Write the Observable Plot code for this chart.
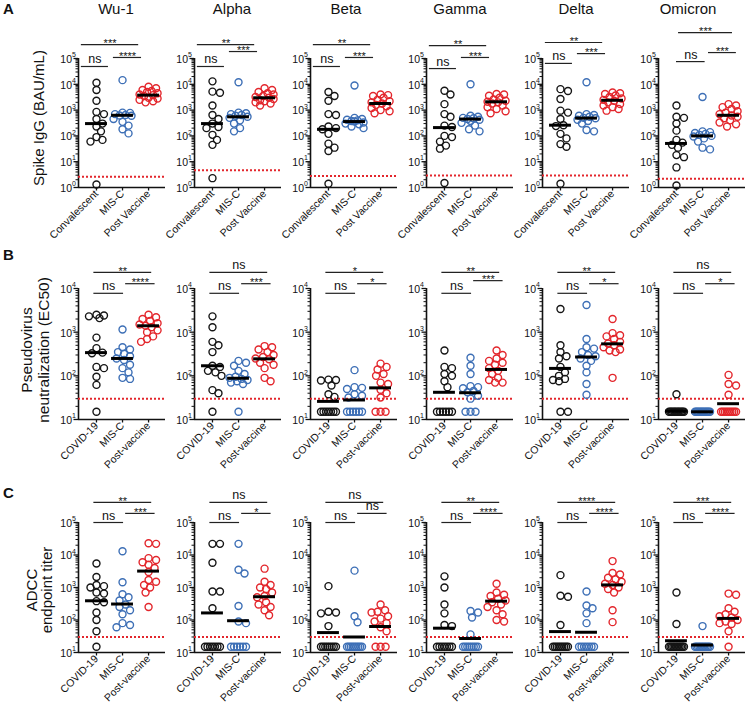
<!DOCTYPE html>
<html><head><meta charset="utf-8">
<script src="https://cdn.jsdelivr.net/npm/d3@7"></script>
<script src="https://cdn.jsdelivr.net/npm/@observablehq/plot@0.6"></script>
<style>
body{margin:0;background:#fff;font-family:"Liberation Sans",Arial,sans-serif;color:#111;}
#root{position:relative;width:752px;height:706px;overflow:hidden;background:#fff;}
.abs{position:absolute;white-space:nowrap;}
.title{font-size:15px;transform:translateX(-50%);line-height:18px;}
.letter{font-size:15px;font-weight:bold;left:3px;}
.ytitle{transform:translate(-50%,-50%) rotate(-90deg);text-align:center;}
.panel{position:absolute;}
</style></head><body><div id="root"></div>
<script>
// ---------- categories / labels ----------
const variants = ["Wu-1", "Alpha", "Beta", "Gamma", "Delta", "Omicron"];
const groupsA = ["Convalescent", "MIS-C", "Post Vaccine"];
const groupsBC = ["COVID-19", "MIS-C", "Post-vaccine"];

// ---------- Row A: Spike IgG (BAU/mL) ----------
const iggConvalescent = [
  [11500, 6000, 2300, 850, 700, 450, 300, 230, 150, 90, 70, 60, 1.3],
  [13000, 5200, 4700, 1500, 650, 450, 300, 220, 200, 110, 70, 45, 2.3],
  [5000, 3500, 2300, 700, 650, 230, 200, 180, 120, 50, 35, 26, 1.4],
  [5600, 4000, 1700, 700, 550, 250, 220, 100, 90, 60, 42, 32, 1.5],
  [6500, 5500, 2700, 950, 800, 450, 260, 240, 120, 80, 48, 38, 1.4],
  [1500, 550, 500, 300, 160, 70, 55, 45, 35, 18, 15, 6, 1.2]
];
const iggMISC = [
  [14500, 800, 780, 700, 650, 620, 600, 450, 350, 250, 180, 125],
  [12000, 800, 750, 700, 650, 600, 550, 500, 400, 300, 200, 150],
  [9000, 500, 450, 420, 400, 380, 360, 330, 300, 280, 230, 200],
  [10000, 600, 550, 500, 480, 450, 420, 380, 320, 250, 180, 150],
  [12000, 700, 650, 600, 550, 500, 480, 420, 380, 300, 170, 150],
  [3200, 150, 140, 130, 120, 110, 100, 95, 80, 60, 35, 30]
];
const iggPost = [
  [8000, 7000, 6000, 5500, 5000, 4500, 4000, 3800, 3500, 3000, 2800, 2500, 2200, 2000],
  [7000, 6000, 5000, 4500, 4000, 3500, 3200, 3000, 2700, 2400, 2200, 2000, 1800, 1500],
  [4000, 3800, 3500, 3000, 2500, 2200, 2000, 1800, 1600, 1400, 1200, 1000, 900, 750],
  [4200, 4000, 3600, 3000, 2600, 2300, 2100, 2000, 1800, 1500, 1300, 1100, 900, 750],
  [4800, 4500, 4200, 3700, 3200, 2800, 2500, 2300, 2000, 1700, 1500, 1300, 1100, 950],
  [1700, 1500, 1300, 1100, 900, 800, 700, 620, 550, 480, 400, 330, 280, 230]
];
const iggGMT = [[300, 630, 3800], [300, 550, 3000], [180, 360, 1800], [210, 450, 2100], [260, 490, 2400], [51, 100, 630]];
const iggLOD = [2.6, 4.7, 2.8, 2.9, 2.9, 2.2];
const iggSig = [["ns", "****", "***"], ["ns", "***", "**"], ["ns", "***", "**"], ["ns", "***", "**"], ["ns", "***", "**"], ["ns", "***", "***"]];
const iggBracketExp = [[4.69, 5.04, 5.54], [4.69, 5.27, 5.54], [4.69, 5.04, 5.54], [4.61, 5.04, 5.5], [4.81, 5.19, 5.62], [4.88, 5.23, 6.0]];

// ---------- Row B: Pseudovirus neutralization (EC50) ----------
const neutCovid = [
  [2500, 2400, 2300, 2100, 750, 430, 340, 330, 160, 150, 95, 62, 15],
  [2300, 1300, 600, 500, 350, 170, 160, 130, 120, 100, 47, 40, 15],
  [82, 80, 78, 60, 38, 33, 15, 15, 15, 15, 15, 15, 15],
  [380, 160, 150, 110, 100, 75, 55, 15, 15, 15, 15, 15, 15],
  [3400, 500, 350, 280, 250, 160, 120, 100, 85, 80, 75, 15, 15],
  [38, 15, 15, 15, 15, 15, 15, 15, 15, 15, 15, 15, 15]
];
const neutMISC = [
  [1150, 450, 400, 350, 320, 280, 250, 230, 180, 150, 120, 90, 85],
  [220, 200, 170, 130, 110, 95, 90, 85, 80, 75, 70, 65, 15],
  [135, 55, 53, 50, 38, 35, 32, 15, 15, 15, 15, 15, 15],
  [260, 170, 110, 58, 55, 52, 45, 42, 35, 30, 15, 15, 15],
  [4200, 700, 450, 420, 350, 300, 280, 250, 220, 170, 120, 65, 37],
  [15, 15, 15, 15, 15, 15, 15, 15, 15, 15, 15, 15, 15]
];
const neutPost = [
  [2500, 2200, 2000, 1800, 1600, 1500, 1400, 1300, 1100, 1000, 800, 700, 600],
  [480, 450, 400, 350, 300, 270, 250, 240, 200, 180, 150, 90, 75],
  [190, 160, 140, 110, 100, 70, 65, 48, 40, 32, 15, 15, 15],
  [380, 300, 250, 220, 200, 180, 150, 130, 110, 90, 80, 70, 70],
  [2000, 950, 850, 800, 700, 600, 550, 500, 450, 400, 380, 350, 90],
  [105, 65, 60, 37, 15, 15, 15, 15, 15, 15, 15, 15, 15]
];
const neutGMT = [[340, 250, 1400], [170, 88, 245], [26, 28, 53], [42, 41, 140], [148, 270, 540], [15.5, 15, 23]];
const neutLOD = [30, 30, 30, 30, 30, 30];
const neutSig = [["ns", "****", "**"], ["ns", "***", "ns"], ["ns", "*", "*"], ["ns", "***", "**"], ["ns", "*", "**"], ["ns", "*", "ns"]];
const neutBracketExp = [[3.89, 4.11, 4.37], [3.89, 4.11, 4.37], [3.89, 4.11, 4.37], [3.89, 4.18, 4.37], [3.89, 4.11, 4.37], [3.89, 4.11, 4.37]];

// ---------- Row C: ADCC endpoint titer ----------
const adccCovid = [
  [5500, 2100, 1200, 1100, 1000, 700, 650, 380, 350, 170, 100, 45, 15],
  [22000, 22000, 5800, 750, 750, 230, 15, 15, 15, 15, 15, 15, 15],
  [1100, 180, 170, 160, 65, 15, 15, 15, 15, 15, 15, 15, 15],
  [2200, 1000, 300, 160, 70, 65, 15, 15, 15, 15, 15, 15, 15],
  [2400, 560, 520, 70, 15, 15, 15, 15, 15, 15, 15, 15, 15],
  [700, 75, 15, 15, 15, 15, 15, 15, 15, 15, 15, 15, 15]
];
const adccMISC = [
  [13000, 1450, 620, 500, 400, 300, 250, 200, 150, 80, 70, 60],
  [22000, 3500, 2700, 270, 90, 80, 15, 15, 15, 15, 15, 15],
  [3300, 130, 85, 15, 15, 15, 15, 15, 15, 15, 15, 15],
  [190, 170, 120, 36, 15, 15, 15, 15, 15, 15, 15, 15],
  [750, 280, 230, 160, 80, 15, 15, 15, 15, 15, 15, 15],
  [65, 15, 15, 15, 15, 15, 15, 15, 15, 15, 15, 15]
];
const adccPost = [
  [23000, 22000, 8000, 7000, 6000, 5000, 4000, 3000, 1700, 1500, 1200, 1000, 700, 250],
  [3800, 1500, 1200, 1000, 900, 700, 550, 500, 350, 300, 250, 200, 140],
  [300, 200, 180, 170, 130, 110, 90, 80, 60, 45, 15, 15, 15],
  [1300, 700, 600, 550, 450, 400, 350, 300, 250, 200, 150, 100, 90],
  [6500, 2800, 2500, 2000, 1800, 1500, 1300, 1200, 1000, 900, 700, 200, 86],
  [650, 600, 230, 180, 150, 130, 120, 100, 90, 80, 75, 45, 15]
];
const adccGMT = [[390, 310, 3200], [165, 95, 520], [41, 30, 63], [56, 27, 380], [44, 42, 1200], [23, 17, 112]];
const adccLOD = [30, 30, 30, 30, 30, 30];
const adccSig = [["ns", "***", "**"], ["ns", "*", "ns"], ["ns", "ns", "ns"], ["ns", "****", "**"], ["ns", "****", "****"], ["ns", "****", "***"]];
const adccBracketExp = [[5.0, 5.28, 5.62], [5.0, 5.28, 5.62], [5.0, 5.28, 5.62], [5.0, 5.28, 5.62], [5.0, 5.28, 5.62], [5.0, 5.28, 5.62]];

// ---------- layout ----------
const COLORS = ["#151515", "#3d6fb6", "#e3262c"];
const RED = "#e3262c";
const FONT = "Liberation Sans, Arial, sans-serif";
const ML = 36, PW = 87, SVGW = 128;
const XMIN = -0.69, XMAX = 2.65;
const UNIT = PW / (XMAX - XMIN);
const axisLeft = [78, 194, 310, 426, 542, 658];
const titleX = [116, 232, 346, 460, 576, 688];
const spansA = [[-0.58, 0.46], [0.65, 1.73], [-0.58, 1.62]];
const spansAOmicron = [[0.0, 1.1], [1.23, 2.3], [0.08, 2.15]];
const spansBC = [[-0.1, 1.04], [1.12, 2.25], [-0.1, 2.12]];

const rows = [
  {top: 18, mt: 40, ph: 129, mb: 54, domain: [1, 1e5], sets: [iggConvalescent, iggMISC, iggPost], gmt: iggGMT, lod: iggLOD, sig: iggSig, br: iggBracketExp, labels: groupsA, spans: vi => vi === 5 ? spansAOmicron : spansA},
  {top: 246, mt: 42, ph: 131, mb: 54, domain: [10, 1e4], sets: [neutCovid, neutMISC, neutPost], gmt: neutGMT, lod: neutLOD, sig: neutSig, br: neutBracketExp, labels: groupsBC, spans: () => spansBC},
  {top: 480, mt: 42, ph: 130, mb: 54, domain: [10, 1e5], sets: [adccCovid, adccMISC, adccPost], gmt: adccGMT, lod: adccLOD, sig: adccSig, br: adccBracketExp, labels: groupsBC, spans: () => spansBC}
];

function swarm(vals, yScale) {
  const pts = vals.map(v => ({v, y: yScale(v), dx: 0, done: false}));
  const placed = [];
  const counts = d3.rollup(vals, g => g.length, v => v);
  for (const [v, n] of counts) {
    if (n < 3) continue;
    const grp = pts.filter(p => p.v === v);
    const sp = Math.min(5, 15 / (n - 1));
    grp.forEach((p, i) => { p.dx = (i - (n - 1) / 2) * sp; p.done = true; placed.push(p); });
  }
  const rest = pts.filter(p => !p.done).sort((a, b) => a.y - b.y);
  for (const p of rest) {
    let best = 0, bestD = -1;
    search: for (let k = 0; k <= 6; k++) {
      for (const s of (k ? [1, -1] : [1])) {
        const dx = s * k * 1.5;
        let md = Infinity;
        for (const q of placed) md = Math.min(md, Math.hypot(q.dx - dx, q.y - p.y));
        if (md >= 6.5) { best = dx; break search; }
        if (md > bestD) { bestD = md; best = dx; }
      }
    }
    p.dx = best; placed.push(p);
  }
  return pts;
}

function makePanel(row, vi) {
  const [ymin, ymax] = row.domain;
  const H = row.mt + row.ph + row.mb;
  const yScale = d3.scaleLog().domain([ymin, ymax]).range([row.mt + row.ph, row.mt]);
  const pts = row.sets.flatMap((set, gi) => swarm(set[vi], yScale).map(p => ({v: p.v, g: gi, x: gi + p.dx / UNIT})));
  const bars = row.gmt[vi].map((v, g) => ({g, v}));
  const sp = row.spans(vi);
  const brackets = [0, 1, 2].map(k => ({x1: sp[k][0], x2: sp[k][1], y: Math.pow(10, row.br[vi][k]), label: row.sig[vi][k]}));
  const e0 = Math.round(Math.log10(ymin)), e1 = Math.round(Math.log10(ymax));
  const majors = d3.range(e0, e1 + 1).map(e => Math.pow(10, e));
  const minors = d3.range(e0, e1).flatMap(e => d3.range(2, 10).map(m => m * Math.pow(10, e)));
  const labels = row.labels;
  return Plot.plot({
    width: SVGW, height: H,
    marginLeft: ML, marginRight: SVGW - ML - PW, marginTop: row.mt, marginBottom: row.mb,
    style: {background: "transparent", overflow: "visible", fontFamily: FONT, color: "#111"},
    x: {type: "linear", domain: [XMIN, XMAX], label: null},
    y: {type: "log", domain: [ymin, ymax], label: null},
    marks: [
      Plot.axisY({ticks: minors, tickSize: 2.5, tickFormat: () => "", strokeWidth: 1, label: null}),
      Plot.axisY({ticks: majors, tickSize: 4.5, tickFormat: () => "", strokeWidth: 1.3, label: null}),
      Plot.text(majors, {x: XMIN, y: d => d, text: () => "10", textAnchor: "end", dx: -6.5, dy: 1, fontSize: 10.5}),
      Plot.text(majors, {x: XMIN, y: d => d, text: d => String(Math.round(Math.log10(d))), textAnchor: "start", dx: -6.5, dy: -3.5, fontSize: 7}),
      Plot.ruleX([XMIN], {y1: ymin, y2: ymax, strokeWidth: 1.6}),
      Plot.ruleY([ymin], {x1: XMIN, x2: XMAX, strokeWidth: 1.6}),
      Plot.axisX({ticks: [0, 1, 2], tickFormat: i => labels[i], tickRotate: -45, tickSize: 3.5, tickPadding: 1, fontSize: 10.5, strokeWidth: 1.3, label: null}),
      Plot.ruleY([row.lod[vi]], {x1: XMIN, x2: XMAX, stroke: RED, strokeWidth: 2, strokeDasharray: "2,2"}),
      ...[0, 1, 2].map(g => Plot.dot(pts.filter(p => p.g === g), {x: "x", y: "v", r: 3.5, stroke: COLORS[g], strokeWidth: 1.4, fill: "none"})),
      Plot.ruleY(bars, {x1: d => d.g - 0.42, x2: d => d.g + 0.42, y: "v", stroke: "#000", strokeWidth: 3}),
      Plot.ruleY(brackets, {x1: "x1", x2: "x2", y: "y", stroke: "#222", strokeWidth: 1.2}),
      Plot.text(brackets.filter(b => b.label === "ns"), {x: d => (d.x1 + d.x2) / 2, y: "y", text: "label", dy: -7, fontSize: 12.5}),
      Plot.text(brackets.filter(b => b.label !== "ns"), {x: d => (d.x1 + d.x2) / 2, y: "y", text: "label", dy: -1, fontSize: 11})
    ]
  });
}

const root = document.getElementById("root");
function addDiv(cls, html, css) {
  const d = document.createElement("div");
  d.className = "abs " + cls;
  d.innerHTML = html;
  Object.assign(d.style, css);
  root.appendChild(d);
  return d;
}

rows.forEach((row, ri) => {
  variants.forEach((v, vi) => {
    const svg = makePanel(row, vi);
    const wrap = document.createElement("div");
    wrap.className = "panel";
    wrap.style.left = (axisLeft[vi] - ML) + "px";
    wrap.style.top = row.top + "px";
    wrap.appendChild(svg);
    root.appendChild(wrap);
  });
});

variants.forEach((v, vi) => addDiv("title", v, {left: titleX[vi] + "px", top: "0px"}));
addDiv("letter", "A", {top: "0px"});
addDiv("letter", "B", {top: "246px"});
addDiv("letter", "C", {top: "484px"});
addDiv("ytitle", "Spike IgG (BAU/mL)", {left: "38px", top: "118px", fontSize: "15px"});
addDiv("ytitle", "Pseudovirus<br>neutralization (EC50)", {left: "35px", top: "350px", fontSize: "15.5px", lineHeight: "17px"});
addDiv("ytitle", "ADCC<br>endpoint titer", {left: "39px", top: "590px", fontSize: "15px", lineHeight: "15px"});
</script></body></html>
